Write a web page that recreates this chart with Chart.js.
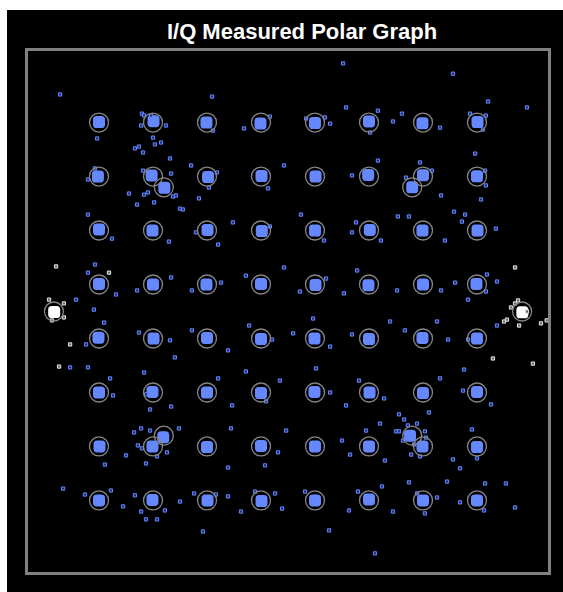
<!DOCTYPE html>
<html>
<head>
<meta charset="utf-8">
<script src="https://cdn.jsdelivr.net/npm/chart.js@4.4.1/dist/chart.umd.min.js"></script>
<style>
  html, body { margin: 0; padding: 0; background: #fff; width: 563px; height: 592px; overflow: hidden; }
  #panel { position: absolute; left: 7px; top: 10px; width: 556px; height: 582px; background: #000; }
  #title { position: absolute; left: 0; top: 20px; width: 604px; text-align: center; color: #fff;
           font: bold 22px "Liberation Sans", Arial, sans-serif; line-height: 24px; }
  #frame { position: absolute; left: 25px; top: 48px; width: 520px; height: 521px; border: 3px solid #808080; background: #000; }
  #frame canvas { display: block; }
</style>
</head>
<body>
<div id="panel"></div>
<div id="title">I/Q Measured Polar Graph</div>
<div id="frame"><canvas id="iq" width="520" height="521"></canvas></div>
<script>
// Ideal 64-QAM levels on each axis
const idealLevels = [-7, -5, -3, -1, 1, 3, 5, 7];
// Extra reference positions between the outer rings
const offsetRefs = [[-4.6, 4.6], [4.6, 4.6], [-4.6, -4.6], [4.6, -4.6]];
// Pilot reference positions
const pilotRefs = [[-8.67, 0], [8.67, 0]];

// Measured cluster centres (I, Q), row by row from the top
const clusterCentres = [
  [-7.0, 7.02], [-4.98, 7.05], [-3.02, 7.0], [-1.02, 6.96], [1.0, 6.98], [3.0, 7.04], [4.98, 6.97], [7.02, 7.02],
  [-7.04, 5.0], [-5.05, 5.04], [-2.96, 4.98], [-0.98, 5.02], [1.02, 5.0], [2.97, 5.06], [5.0, 5.05], [7.0, 5.01],
  [-7.0, 3.04], [-5.02, 3.0], [-2.98, 3.02], [-0.97, 2.98], [1.0, 3.0], [3.03, 3.02], [4.98, 3.0], [7.02, 3.0],
  [-7.0, 1.02], [-5.0, 1.0], [-3.02, 1.0], [-1.0, 1.02], [1.02, 0.98], [2.98, 0.97], [5.0, 1.0], [6.98, 1.02],
  [-7.02, -0.97], [-4.98, -1.0], [-3.0, -0.98], [-1.0, -1.02], [0.98, -1.0], [3.0, -1.02], [4.98, -0.98], [7.0, -1.0],
  [-7.0, -3.0], [-5.02, -2.98], [-3.0, -3.0], [-1.0, -3.02], [0.98, -2.98], [3.02, -3.0], [5.0, -3.02], [7.0, -2.98],
  [-6.98, -5.0], [-5.02, -5.0], [-3.0, -5.02], [-1.0, -4.98], [1.0, -5.0], [3.0, -5.0], [4.98, -5.0], [7.0, -5.02],
  [-7.0, -7.0], [-5.02, -6.98], [-2.98, -7.0], [-0.98, -7.02], [1.0, -7.0], [3.0, -6.96], [5.0, -7.0], [7.0, -7.0],
  [-4.58, 4.58], [4.6, 4.6], [-4.62, -4.66], [4.52, -4.6]
];

// Measured pilot cluster centres
const pilotCentres = [[-8.66, -0.02], [8.68, -0.03]];

// Isolated measured symbols (I, Q)
const strayPoints = [
  [2.04, 9.19], [6.11, 8.81], [-8.44, 8.04], [-2.81, 7.96], [7.41, 7.78], [8.85, 7.56],
  [-5.41, 7.33], [-5.33, 7.26], [-5.07, 7.26], [-5.44, 6.89], [-4.52, 6.89], [-5.0, 6.44],
  [-4.70, 6.26], [-4.93, 6.19], [-5.52, 6.11], [-5.67, 6.04], [-5.37, 5.89], [-4.37, 5.67],
  [-7.07, 6.41], [-2.78, 6.70], [-1.63, 6.78], [-0.67, 7.22], [0.67, 7.15], [1.37, 7.19],
  [1.56, 6.96], [2.15, 7.56], [3.33, 7.44], [3.04, 6.63], [3.89, 7.04], [4.22, 7.33],
  [5.63, 6.81], [6.74, 7.33], [7.22, 6.74], [7.33, 7.26],
  [-7.15, 5.30], [-7.41, 4.89], [-5.37, 5.22], [-4.33, 5.11], [-5.89, 4.37], [-5.19, 4.41],
  [-5.33, 4.33], [-5.59, 3.96], [-4.96, 4.04], [-4.26, 4.26], [-4.15, 4.30], [-4.0, 3.81],
  [-3.89, 3.78], [-3.30, 4.19], [-3.59, 5.41], [-2.63, 5.15], [-2.93, 4.59], [-0.15, 5.41],
  [-0.74, 4.56], [2.37, 5.04], [3.33, 5.59], [4.89, 5.52], [5.33, 5.22], [4.37, 4.96],
  [5.67, 4.30], [6.93, 5.85], [7.30, 5.22], [7.33, 4.67], [7.15, 4.15], [4.48, 3.52],
  [6.15, 3.70], [6.56, 3.59],
  [-6.52, 2.70], [-7.41, 3.59], [-4.41, 2.59], [-3.41, 2.93], [-2.59, 2.48], [-2.04, 3.30],
  [-0.67, 3.15], [0.48, 3.59], [1.33, 2.63], [2.52, 3.30], [2.37, 2.93], [3.44, 2.63],
  [4.07, 3.52], [5.81, 2.63], [6.44, 3.33], [7.70, 3.07],
  [-7.15, 1.74], [-7.41, 1.44], [-6.37, 0.63], [-5.59, 0.78], [-7.85, 0.44], [-4.33, 1.26],
  [-3.56, 0.78], [-2.48, 1.07], [-1.56, 1.33], [-0.15, 1.63], [0.44, 0.74], [1.41, 1.22],
  [2.07, 0.67], [2.56, 1.52], [4.04, 0.78], [5.67, 0.78], [6.19, 1.07], [7.37, 1.37],
  [7.74, 1.11], [7.33, 0.74], [6.67, 0.44],
  [-7.19, 0.07], [-6.81, -0.41], [-5.52, -0.78], [-4.37, -1.07], [-3.56, -0.70], [-2.22, -1.44],
  [-1.44, -0.52], [-0.59, -1.04], [0.19, -0.81], [0.93, -0.26], [1.56, -1.30], [2.37, -0.85],
  [3.78, -0.37], [4.33, -0.70], [5.52, -0.37], [5.93, -1.04], [7.74, -0.52], [6.67, -1.04],
  [-7.48, -1.22], [-4.19, -1.70],
  [-8.07, -2.07], [-7.41, -2.07], [-6.59, -2.48], [-6.48, -3.11], [-5.33, -2.26], [-5.26, -3.07],
  [-5.11, -3.63], [-4.33, -3.52], [-2.59, -2.48], [-2.07, -3.48], [-1.56, -2.22], [-0.81, -3.33],
  [-0.30, -2.56], [1.04, -2.11], [1.56, -3.0], [2.15, -3.48], [2.63, -2.56], [3.56, -3.22],
  [5.63, -2.48], [6.48, -2.93], [6.52, -2.15], [7.52, -3.44],
  [4.11, -3.81], [4.30, -4.0], [5.22, -3.74], [3.41, -4.15], [4.44, -4.22], [4.78, -4.15],
  [4.0, -4.44], [4.11, -4.44], [4.26, -4.78], [5.07, -4.44], [5.11, -4.67], [4.67, -4.93],
  [4.56, -5.30], [4.89, -5.37], [3.59, -5.52], [6.11, -5.48], [6.37, -5.81], [6.81, -4.37],
  [7.0, -5.44], [-5.70, -4.48], [-5.44, -4.33], [-5.11, -4.41], [-5.56, -4.96], [-5.41, -5.07],
  [-4.85, -5.37], [-4.48, -5.22], [-5.26, -5.63], [-6.0, -5.33], [-4.04, -4.33], [-2.22, -5.78],
  [-2.11, -4.33], [-0.85, -5.70], [-0.37, -5.22], [-0.07, -4.41], [2.0, -4.78], [2.30, -5.30],
  [2.89, -4.41], [-6.78, -5.67],
  [-8.33, -6.56], [-7.52, -6.78], [-6.56, -6.63], [-6.11, -7.22], [-5.67, -6.81], [-5.44, -7.41],
  [-5.26, -7.70], [-4.85, -7.70], [-4.56, -7.37], [-4.0, -7.04], [-3.48, -6.74], [-3.15, -8.15],
  [-2.67, -6.78], [-2.22, -6.85], [-1.74, -7.41], [-1.22, -6.67], [-0.48, -6.74], [-0.22, -7.30],
  [0.63, -6.67], [1.52, -8.11], [2.26, -7.37], [2.59, -6.67], [3.22, -8.96], [3.48, -6.48],
  [3.89, -7.41], [4.48, -6.33], [4.78, -6.74], [5.07, -7.48], [5.52, -6.89], [5.89, -6.30],
  [6.37, -7.07], [7.30, -6.37], [7.26, -7.37], [8.07, -6.37], [8.41, -7.26]
];

// Isolated pilot symbols (I, Q)
const pilotStrays = [
  [-8.59, 1.67], [-6.63, 1.44], [-8.85, 0.44], [-8.30, 0.30], [-8.30, -0.22], [-8.74, -0.33],
  [-8.07, -1.22], [-8.48, -2.04],
  [8.41, 1.63], [8.52, 0.41], [8.41, 0.30], [8.26, 0.15], [8.11, -0.30], [8.0, -0.37],
  [8.85, 0.0], [8.56, -0.52], [9.37, -0.44], [9.58, -0.33], [7.59, -1.74], [9.07, -1.93]
];

const toXY = p => ({ x: p[0], y: p[1] });
const idealGrid = [];
idealLevels.forEach(q => idealLevels.forEach(i => idealGrid.push({ x: i, y: q })));
const referencePoints = idealGrid.concat(offsetRefs.map(toXY), pilotRefs.map(toXY));

new Chart(document.getElementById('iq'), {
  type: 'scatter',
  data: {
    datasets: [
      {
        label: 'Reference',
        data: referencePoints,
        order: 0,
        pointStyle: 'circle',
        pointRadius: 9.5,
        pointBorderWidth: 1.3,
        pointBorderColor: '#858585',
        pointBackgroundColor: 'rgba(0,0,0,0)'
      },
      {
        label: 'Symbols',
        data: strayPoints.map(toXY),
        order: 1,
        pointStyle: 'rect',
        pointRadius: 2.3,
        pointBorderWidth: 1,
        pointBorderColor: '#6688ff',
        pointBackgroundColor: '#1f2f78'
      },
      {
        label: 'Pilot symbols',
        data: pilotStrays.map(toXY),
        order: 1,
        pointStyle: 'rect',
        pointRadius: 2.3,
        pointBorderWidth: 1,
        pointBorderColor: '#e6e6e6',
        pointBackgroundColor: '#6a6a6a'
      },
      {
        label: 'Clusters',
        data: clusterCentres.map(toXY),
        order: 2,
        pointStyle: 'rectRounded',
        pointRadius: 7,
        pointBorderWidth: 0,
        pointBackgroundColor: '#6688ff'
      },
      {
        label: 'Pilot clusters',
        data: pilotCentres.map(toXY),
        order: 2,
        pointStyle: 'rectRounded',
        pointRadius: 7,
        pointBorderWidth: 0,
        pointBackgroundColor: '#ffffff'
      }
    ]
  },
  options: {
    responsive: false,
    animation: false,
    devicePixelRatio: 1,
    layout: { padding: 0, autoPadding: false },
    plugins: { legend: { display: false }, tooltip: { enabled: false }, title: { display: false } },
    scales: {
      x: { type: 'linear', min: -9.63, max: 9.63, display: false },
      y: { type: 'linear', min: -9.65, max: 9.65, display: false }
    }
  }
});
</script>
</body>
</html>
